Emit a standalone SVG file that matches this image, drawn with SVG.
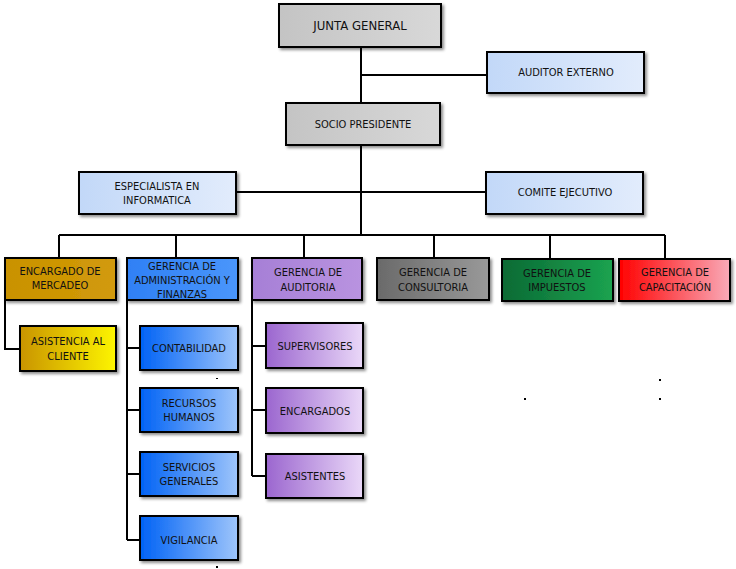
<svg xmlns="http://www.w3.org/2000/svg" width="736" height="569" viewBox="0 0 736 569">
<style>
text{font-family:"DejaVu Sans Condensed","DejaVu Sans",sans-serif;font-size:11px;fill:#111;text-anchor:middle}
.b{stroke:#000;stroke-width:2;filter:url(#sh)}
.c line,.c polyline{stroke:#000;stroke-width:2;fill:none}
</style>
<defs>
<filter id="sh" x="-10%" y="-10%" width="130%" height="140%"><feDropShadow dx="2" dy="2" stdDeviation="1.5" flood-opacity="0.45"/></filter>
<linearGradient id="gray"><stop offset="0" stop-color="#c4c4c4"/><stop offset="1" stop-color="#d8d8d8"/></linearGradient>
<linearGradient id="lb"><stop offset="0" stop-color="#c2d8f8"/><stop offset="1" stop-color="#e2ecfc"/></linearGradient>
<linearGradient id="gold"><stop offset="0" stop-color="#c99200"/><stop offset="1" stop-color="#d29a0a"/></linearGradient>
<linearGradient id="yel"><stop offset="0" stop-color="#c99400"/><stop offset="1" stop-color="#fdf500"/></linearGradient>
<linearGradient id="blue"><stop offset="0" stop-color="#2f80f5"/><stop offset="1" stop-color="#4a96fb"/></linearGradient>
<linearGradient id="blue2"><stop offset="0" stop-color="#0062f5"/><stop offset="1" stop-color="#9ec5fb"/></linearGradient>
<linearGradient id="pur"><stop offset="0" stop-color="#a67fd6"/><stop offset="1" stop-color="#b993e0"/></linearGradient>
<linearGradient id="pur2"><stop offset="0" stop-color="#9b66cf"/><stop offset="1" stop-color="#ead8f8"/></linearGradient>
<linearGradient id="dg"><stop offset="0" stop-color="#6a6a6a"/><stop offset="1" stop-color="#999"/></linearGradient>
<linearGradient id="gr"><stop offset="0" stop-color="#0b6a34"/><stop offset="1" stop-color="#1ba350"/></linearGradient>
<linearGradient id="red"><stop offset="0" stop-color="#ff0000"/><stop offset="1" stop-color="#f9aab8"/></linearGradient>
</defs>
<g class="c" id="connectors">
<line x1="361" y1="47" x2="361" y2="103"/>
<line x1="361" y1="75" x2="487" y2="75"/>
<line x1="361" y1="145" x2="361" y2="235"/>
<line x1="236" y1="192" x2="486" y2="192"/>
<line x1="59" y1="235" x2="665" y2="235"/>
<line x1="59" y1="235" x2="59" y2="258"/>
<line x1="176" y1="235" x2="176" y2="258"/>
<line x1="304" y1="235" x2="304" y2="258"/>
<line x1="434" y1="235" x2="434" y2="258"/>
<line x1="550" y1="235" x2="550" y2="258"/>
<line x1="665" y1="235" x2="665" y2="258"/>
<polyline points="5,300 5,349 20,349"/>
<line x1="127" y1="300" x2="127" y2="540"/>
<line x1="127" y1="348" x2="140" y2="348"/>
<line x1="127" y1="410" x2="140" y2="410"/>
<line x1="127" y1="474" x2="140" y2="474"/>
<line x1="127" y1="540" x2="140" y2="540"/>
<line x1="252" y1="300" x2="252" y2="476"/>
<line x1="252" y1="346" x2="266" y2="346"/>
<line x1="252" y1="410" x2="266" y2="410"/>
<line x1="252" y1="476" x2="266" y2="476"/>
</g>
<g id="junta"><rect class="b" x="279" y="4" width="162" height="43" fill="url(#gray)"/><text x="360" y="30" style="font-size:13px">JUNTA GENERAL</text></g>
<g id="auditor"><rect class="b" x="487" y="52" width="157" height="41" fill="url(#lb)"/><text x="566" y="76">AUDITOR EXTERNO</text></g>
<g id="socio"><rect class="b" x="286" y="103" width="154" height="42" fill="url(#gray)"/><text x="363" y="128">SOCIO PRESIDENTE</text></g>
<g id="especialista"><rect class="b" x="79" y="172" width="157" height="42" fill="url(#lb)"/><text x="157" y="190">ESPECIALISTA EN</text><text x="157" y="204">INFORMATICA</text></g>
<g id="comite"><rect class="b" x="486" y="172" width="157" height="42" fill="url(#lb)"/><text x="565" y="196">COMITE EJECUTIVO</text></g>
<g id="mercadeo"><rect class="b" x="5" y="258" width="111" height="42" fill="url(#gold)"/><text x="60" y="275">ENCARGADO DE</text><text x="60" y="289">MERCADEO</text></g>
<g id="cliente"><rect class="b" x="20" y="326" width="96" height="45" fill="url(#yel)"/><text x="68" y="345">ASISTENCIA AL</text><text x="68" y="360">CLIENTE</text></g>
<g id="admin"><rect class="b" x="127" y="258" width="111" height="42" fill="url(#blue)"/><text x="182" y="270">GERENCIA DE</text><text x="182" y="284">ADMINISTRACIÓN Y</text><text x="182" y="298">FINANZAS</text></g>
<g id="contabilidad"><rect class="b" x="140" y="326" width="98" height="44" fill="url(#blue2)"/><text x="189" y="352">CONTABILIDAD</text></g>
<g id="rrhh"><rect class="b" x="140" y="388" width="98" height="44" fill="url(#blue2)"/><text x="189" y="407">RECURSOS</text><text x="189" y="421">HUMANOS</text></g>
<g id="servicios"><rect class="b" x="140" y="452" width="98" height="44" fill="url(#blue2)"/><text x="189" y="471">SERVICIOS</text><text x="189" y="485">GENERALES</text></g>
<g id="vigilancia"><rect class="b" x="140" y="516" width="98" height="44" fill="url(#blue2)"/><text x="189" y="544">VIGILANCIA</text></g>
<g id="auditoria"><rect class="b" x="252" y="258" width="110" height="42" fill="url(#pur)"/><text x="308" y="276">GERENCIA DE</text><text x="308" y="291">AUDITORIA</text></g>
<g id="supervisores"><rect class="b" x="266" y="323" width="97" height="45" fill="url(#pur2)"/><text x="315" y="350">SUPERVISORES</text></g>
<g id="encargados"><rect class="b" x="266" y="388" width="97" height="45" fill="url(#pur2)"/><text x="315" y="415">ENCARGADOS</text></g>
<g id="asistentes"><rect class="b" x="266" y="454" width="97" height="44" fill="url(#pur2)"/><text x="315" y="480">ASISTENTES</text></g>
<g id="consultoria"><rect class="b" x="377" y="258" width="112" height="42" fill="url(#dg)"/><text x="433" y="276">GERENCIA DE</text><text x="433" y="291">CONSULTORIA</text></g>
<g id="impuestos"><rect class="b" x="502" y="259" width="111" height="42" fill="url(#gr)"/><text x="557" y="277">GERENCIA DE</text><text x="557" y="291">IMPUESTOS</text></g>
<g id="capacitacion"><rect class="b" x="619" y="259" width="111" height="42" fill="url(#red)"/><text x="675" y="276">GERENCIA DE</text><text x="675" y="291">CAPACITACIÓN</text></g>
<g fill="#000"><rect x="524" y="398" width="2" height="2"/><rect x="659" y="379" width="2" height="2"/><rect x="659" y="398" width="2" height="2"/><rect x="216" y="378" width="2" height="1"/><rect x="216" y="566" width="2" height="2"/></g>
</svg>
